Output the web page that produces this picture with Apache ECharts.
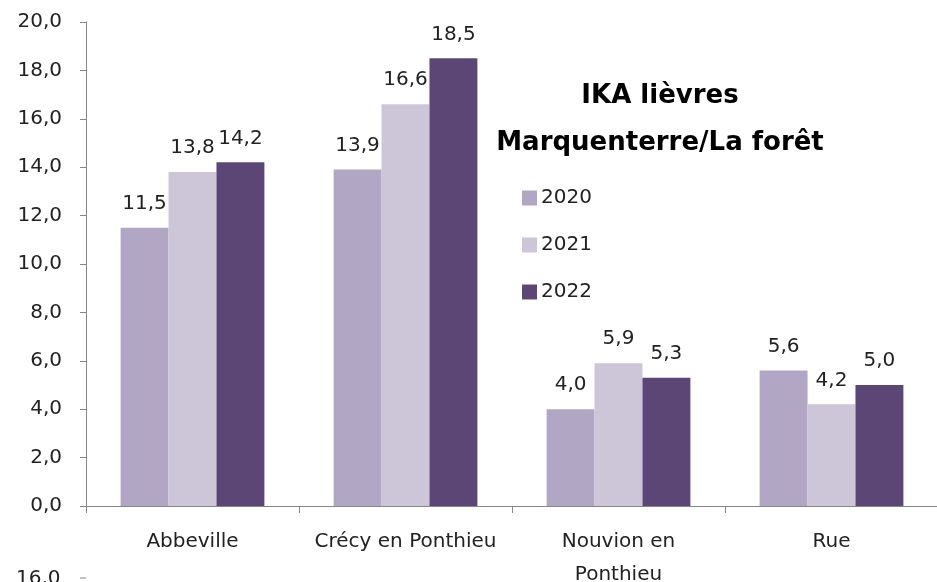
<!DOCTYPE html>
<html>
<head>
<meta charset="utf-8">
<script src="https://cdn.jsdelivr.net/npm/echarts@6/dist/echarts.min.js"></script>
<style>
    html, body { margin: 0; padding: 0; background: #fff; }
    #chart { width: 937px; height: 582px; }
</style>
</head>
<body>
<div id="chart"></div>
<script>
let CATEGORIES = ['Abbeville', 'Crécy en Ponthieu', 'Nouvion en\nPonthieu', 'Rue'];
let YEARS = ['2020', '2021', '2022'];
let V2020 = [11.5, 13.9, 4.0, 5.6];
let V2021 = [13.8, 16.6, 5.9, 4.2];
let V2022 = [14.2, 18.5, 5.3, 5.0];
let COLORS = ['#b1a7c5', '#cdc6d8', '#5c4675'];

const FONT = '"DejaVu Sans", Verdana, sans-serif';
const fmt = v => Number(v).toFixed(1).replace('.', ',');

function makeSeries(name, data, color) {
    return {
        name: name,
        type: 'bar',
        data: data,
        barGap: '0%',
        barCategoryGap: '32.5%',
        itemStyle: { color: color },
        label: {
            show: true,
            position: 'top',
            distance: 14,
            color: '#222',
            fontFamily: FONT,
            fontSize: 20,
            formatter: p => fmt(p.value)
        }
    };
}

window.onload = function() {
    var myChart = echarts.init(document.getElementById('chart'));
    var option = {
        animation: false,
        title: {
            text: 'IKA lièvres\nMarquenterre/La forêt',
            left: 655,
            top: 68,
            textAlign: 'center',
            textStyle: {
                fontFamily: FONT,
                fontSize: 26,
                fontWeight: 'bold',
                color: '#000',
                lineHeight: 47
            }
        },
        legend: {
            orient: 'vertical',
            left: 517,
            top: 183,
            itemWidth: 15,
            itemHeight: 15,
            itemGap: 27,
            icon: 'rect',
            data: YEARS,
            textStyle: { fontFamily: FONT, fontSize: 20, color: '#222', padding: [0, 0, 0, -1] }
        },
        grid: { left: 86, right: -1, top: 22, bottom: 76, containLabel: false, outerBoundsMode: 'none' },
        xAxis: {
            type: 'category',
            data: CATEGORIES,
            axisLine: { lineStyle: { color: '#868686', width: 1 } },
            axisTick: { show: true, length: 7, inside: false, lineStyle: { color: '#868686' } },
            axisLabel: {
                margin: 19,
                interval: 0,
                color: '#222',
                fontFamily: FONT,
                fontSize: 20,
                lineHeight: 33
            }
        },
        yAxis: {
            type: 'value',
            min: 0,
            max: 20,
            interval: 2,
            axisLine: { show: true, lineStyle: { color: '#868686', width: 1 } },
            axisTick: { show: true, length: 6, lineStyle: { color: '#868686' } },
            splitLine: { show: false },
            axisLabel: {
                margin: 24,
                color: '#222',
                fontFamily: FONT,
                fontSize: 20,
                formatter: v => fmt(v)
            }
        },
        graphic: [
            {
                type: 'text',
                left: 16,
                top: 569,
                style: { text: '16,0', fontFamily: FONT, fontSize: 20, fill: '#222' }
            },
            {
                type: 'line',
                shape: { x1: 80, y1: 578, x2: 86, y2: 578 },
                style: { stroke: '#868686', lineWidth: 1 }
            }
        ],
        series: [
            makeSeries(YEARS[0], V2020, COLORS[0]),
            makeSeries(YEARS[1], V2021, COLORS[1]),
            makeSeries(YEARS[2], V2022, COLORS[2])
        ]
    };
    myChart.setOption(option);
};
</script>
</body>
</html>
